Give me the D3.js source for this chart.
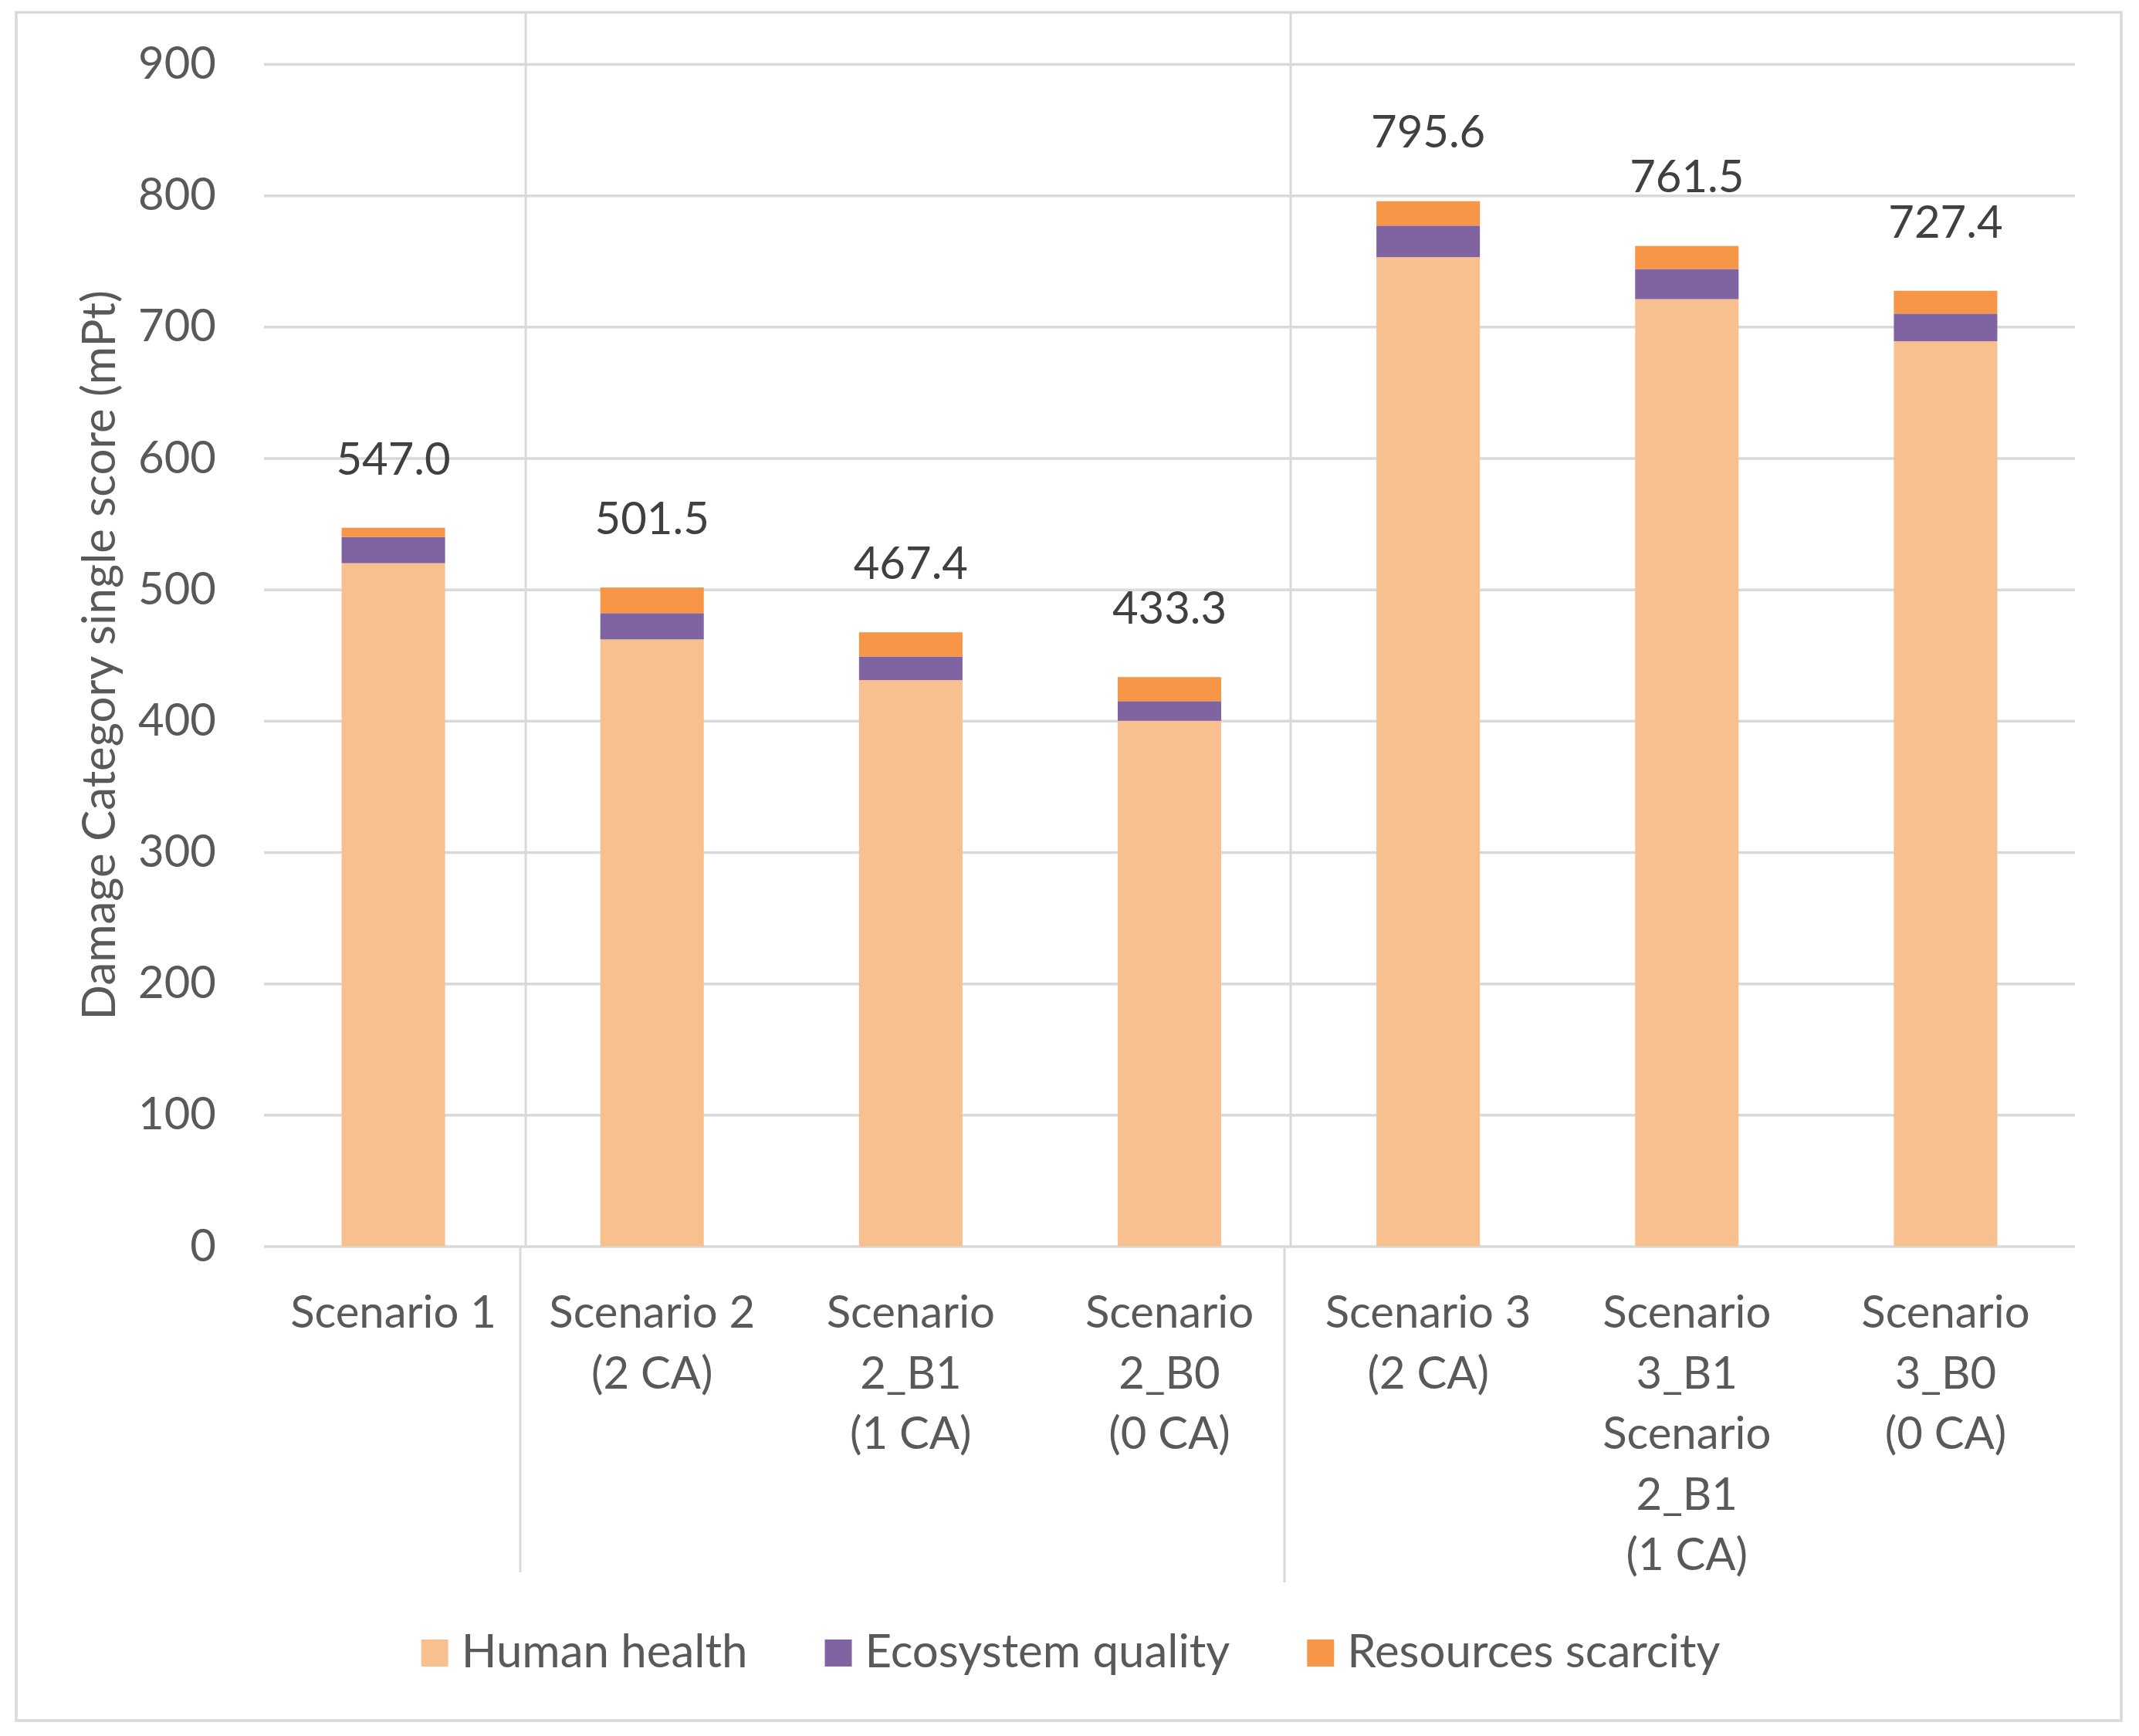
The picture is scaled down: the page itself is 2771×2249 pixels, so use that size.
<!DOCTYPE html>
<html>
<head>
<meta charset="utf-8">
<script src="https://cdn.jsdelivr.net/npm/d3@7/dist/d3.min.js"></script>
<style>
    body { margin: 0; background: #fff; }
    svg text { font-family: Lato, "Open Sans", sans-serif; }
</style>
</head>
<body>
<div class="main"></div>
<script>

// data
const categories = [
    "Scenario 1",
    "Scenario 2\n(2 CA)",
    "Scenario\n2_B1\n(1 CA)",
    "Scenario\n2_B0\n(0 CA)",
    "Scenario 3\n(2 CA)",
    "Scenario\n3_B1\nScenario\n2_B1\n(1 CA)",
    "Scenario\n3_B0\n(0 CA)"
]
const humanHealth       = [520, 462, 431, 400, 753, 721, 689]
const ecosystemQuality  = [20, 20, 18, 15, 24, 23, 21]
const resourcesScarcity = [7, 19.5, 18.4, 18.3, 18.6, 17.5, 17.4]
const totals            = [547.0, 501.5, 467.4, 433.3, 795.6, 761.5, 727.4]
const seriesNames = ["Human health", "Ecosystem quality", "Resources scarcity"]
const seriesColors = ["#F9C08F", "#8064A2", "#F79646"]
const yTicks = [0, 100, 200, 300, 400, 500, 600, 700, 800, 900]


const chart = () => {

    ////////////
    // CANVAS //
    ////////////

    const w = 2771
    const h = 2249
    const plot = { left: 342, right: 2688, top: 83, bottom: 1614.5 }
    const fontSize = 58
    const textColor = "#595959"
    const gridColor = "#D9D9D9"

    const svg = d3.select(".main")
        .append("svg")
        .attr("width", w)
        .attr("height", h)

    svg.append("rect")
        .attr("width", w)
        .attr("height", h)
        .attr("fill", "#fff")

    // outer frame
    svg.append("rect")
        .attr("x", 21)
        .attr("y", 16)
        .attr("width", 2727)
        .attr("height", 2213)
        .attr("fill", "none")
        .attr("stroke", gridColor)
        .attr("stroke-width", 3.5)

    ////////////
    // SCALES //
    ////////////

    const xScale = d3.scaleBand()
        .domain(categories)
        .range([plot.left, plot.right])
        .paddingInner(0.6)
        .paddingOuter(0.3)

    const yScale = d3.scaleLinear()
        .domain([0, 900])
        .range([plot.bottom, plot.top])

    const color = d3.scaleOrdinal().domain(seriesNames).range(seriesColors)

    ///////////
    // AXLES //
    ///////////

    const yAxis = d3.axisLeft(yScale)
        .tickValues(yTicks)
        .tickSize(-(plot.right - plot.left))
        .tickPadding(62)

    const yAxisDefined = svg.append("g")
        .attr("transform", `translate(${plot.left}, 0)`)
        .call(yAxis)

    yAxisDefined.select(".domain").remove()
    yAxisDefined.selectAll("line")
        .attr("stroke", gridColor)
        .attr("stroke-width", 3.5)
    yAxisDefined.selectAll("text")
        .attr("font-size", fontSize)
        .attr("font-family", "Lato, sans-serif")
        .attr("fill", textColor)

    // group dividers (upper part in the plot, lower part under the axis)
    const dividers = [
        { top: 681, low: 674, end: 2037 },
        { top: 1672, low: 1664, end: 2050 }
    ]
    dividers.forEach(d => {
        svg.append("line")
            .attr("x1", d.top).attr("x2", d.top)
            .attr("y1", 16).attr("y2", plot.bottom)
            .attr("stroke", gridColor).attr("stroke-width", 3)
        svg.append("line")
            .attr("x1", d.low).attr("x2", d.low)
            .attr("y1", plot.bottom).attr("y2", d.end)
            .attr("stroke", gridColor).attr("stroke-width", 3)
    })

    const xAxis = d3.axisBottom(xScale).tickSize(0).tickPadding(0)

    const xAxisDefined = svg.append("g")
        .attr("transform", `translate(0, ${plot.bottom})`)
        .call(xAxis)

    xAxisDefined.select(".domain").remove()
    xAxisDefined.selectAll("text").each(function (d) {
        const t = d3.select(this)
            .text(null)
            .attr("y", 0)
            .attr("dy", null)
            .attr("font-size", fontSize)
            .attr("font-family", "Lato, sans-serif")
            .attr("fill", textColor)
        d.split("\n").forEach((line, i) => {
            t.append("tspan")
                .attr("x", 0)
                .attr("y", 105.5 + i * 78.5)
                .text(line)
        })
    })

    svg.append("text")
        .text("Damage Category single score (mPt)")
        .attr("transform", `translate(149, ${(plot.top + plot.bottom) / 2}) rotate(-90)`)
        .attr("text-anchor", "middle")
        .attr("font-size", 60)
        .attr("fill", textColor)

    //////////
    // BARS //
    //////////

    const rows = categories.map((c, i) => ({
        category: c,
        "Human health": humanHealth[i],
        "Ecosystem quality": ecosystemQuality[i],
        "Resources scarcity": resourcesScarcity[i]
    }))

    const stacked = d3.stack().keys(seriesNames)(rows)

    svg.append("g")
        .selectAll("g")
        .data(stacked)
        .enter()
        .append("g")
        .attr("fill", d => color(d.key))
        .selectAll("rect")
        .data(d => d)
        .enter()
        .append("rect")
        .attr("x", d => xScale(d.data.category))
        .attr("y", d => yScale(d[1]))
        .attr("width", xScale.bandwidth())
        .attr("height", d => yScale(d[0]) - yScale(d[1]))

    // totals above the bars
    svg.append("g")
        .selectAll("text")
        .data(totals)
        .enter()
        .append("text")
        .text(d => d.toFixed(1))
        .attr("x", (d, i) => xScale(categories[i]) + xScale.bandwidth() / 2)
        .attr("y", d => yScale(d + 53) + 21)
        .attr("text-anchor", "middle")
        .attr("font-size", fontSize)
        .attr("fill", "#404040")

    ////////////
    // LEGEND //
    ////////////

    const legend = svg.append("g")
    const items = legend.selectAll("g")
        .data(seriesNames)
        .enter()
        .append("g")

    items.append("rect")
        .attr("width", 35)
        .attr("height", 35)
        .attr("y", 2124)
        .attr("fill", d => color(d))

    items.append("text")
        .text(d => d)
        .attr("x", 52)
        .attr("y", 2160)
        .attr("font-size", 60)
        .attr("fill", textColor)

    let cursor = 0
    const widths = []
    items.each(function () {
        const tw = d3.select(this).select("text").node().getComputedTextLength()
        widths.push(52 + tw)
    })
    const total = d3.sum(widths) + 100 * (widths.length - 1)
    cursor = 1387 - total / 2
    items.attr("transform", (d, i) => {
        const x = cursor
        cursor += widths[i] + 100
        return `translate(${x}, 0)`
    })
}

chart()

</script>
</body>
</html>
